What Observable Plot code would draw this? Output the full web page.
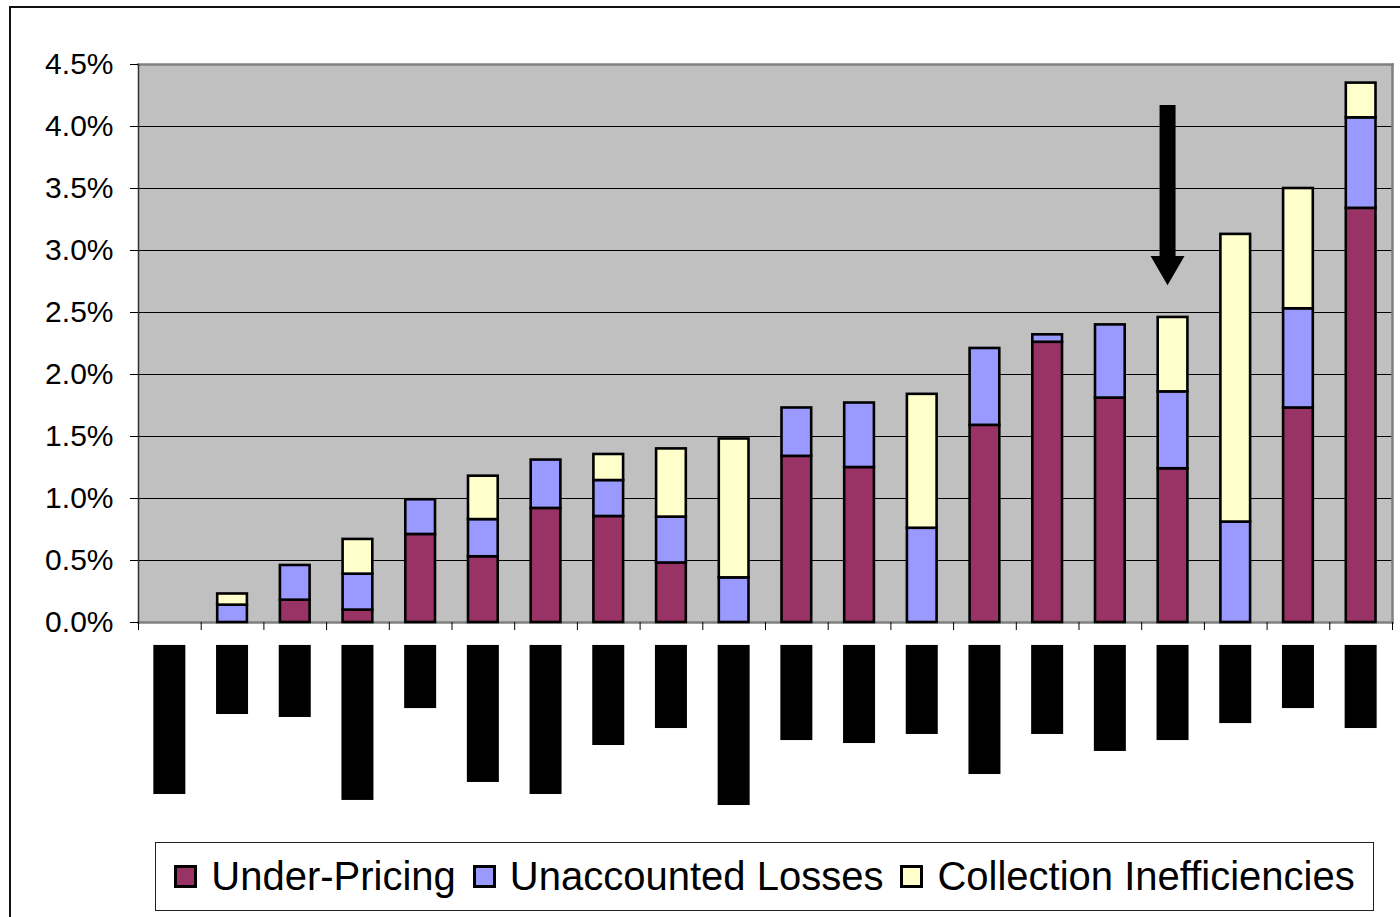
<!DOCTYPE html>
<html>
<head>
<meta charset="utf-8">
<script src="https://cdn.jsdelivr.net/npm/d3@7"></script>
<script src="https://cdn.jsdelivr.net/npm/@observablehq/plot@0.6"></script>
<style>
  body { margin: 0; background: #fff; font-family: "Liberation Sans", Arial, sans-serif; }
  #page { position: relative; width: 1400px; height: 917px; overflow: hidden; }
  #border { position: absolute; left: 9px; top: 6px; width: 1420px; height: 940px; border: 2px solid #111; box-sizing: border-box; }
  #chart { position: absolute; left: 0; top: 0; }
  #legend { position: absolute; left: 155px; top: 842px; width: 1219px; height: 69px; border: 1.5px solid #222;
            box-sizing: border-box; display: flex; align-items: center; justify-content: center; background: #fff;
            font-size: 40px; color: #000; white-space: nowrap; }
  .sw { width: 23px; height: 23px; border: 3px solid #000; box-sizing: border-box; margin-right: 14px; }
  .item { display: flex; align-items: center; margin-right: 17px; }
  .item:last-child { margin-right: 0; }
</style>
</head>
<body>
<div id="page">
  <div id="border"></div>
  <div id="chart"></div>
  <div id="legend"></div>
</div>
<script>
// ---- data (percent) ----
const categories = d3.range(1, 21);
const seriesNames = ["Under-Pricing", "Unaccounted Losses", "Collection Inefficiencies"];
const seriesColors = ["#993366", "#9999FF", "#FFFFCC"];
const underPricing =             [0, 0,    0.18, 0.10, 0.71, 0.53, 0.92, 0.855, 0.48, 0,    1.34, 1.25, 0,    1.59, 2.26, 1.81, 1.24, 0,    1.73, 3.34];
const unaccountedLosses =        [0, 0.14, 0.28, 0.29, 0.28, 0.30, 0.39, 0.29,  0.37, 0.36, 0.39, 0.52, 0.76, 0.62, 0.06, 0.59, 0.62, 0.81, 0.80, 0.73];
const collectionInefficiencies = [0, 0.09, 0,    0.28, 0,    0.35, 0,    0.21,  0.55, 1.12, 0,    0,    1.08, 0,    0,    0,    0.60, 2.32, 0.97, 0.28];
const yTicks = [0, 0.5, 1.0, 1.5, 2.0, 2.5, 3.0, 3.5, 4.0, 4.5];
// redacted (blacked-out) category labels: depth below the axis, in the same units
const redactedLabelTop = 0.185;
const redactedLabelDepth = [1.387, 0.742, 0.766, 1.435, 0.694, 1.290, 1.387, 0.992, 0.855, 1.476,
                            0.952, 0.976, 0.903, 1.226, 0.903, 1.040, 0.952, 0.815, 0.694, 0.855];
// annotation arrow
const arrowCategory = 17;
const arrowFrom = 4.17;
const arrowTo = 2.72;

// ---- build stacked rows ----
const seriesValues = [underPricing, unaccountedLosses, collectionInefficiencies];
const rows = [];
categories.forEach((c, i) => {
  let base = 0;
  seriesValues.forEach((vals, s) => {
    const v = vals[i];
    if (v > 0) rows.push({cat: c, series: seriesNames[s], color: seriesColors[s], y1: base, y2: base + v});
    base += v;
  });
});

const plot = Plot.plot({
  width: 1400,
  height: 830,
  marginLeft: 138,
  marginRight: 8,
  marginTop: 64,
  marginBottom: 208,
  x: {domain: [0.5, 20.5]},
  y: {domain: [0, 4.5]},
  style: {fontFamily: "Liberation Sans, Arial, sans-serif", background: "transparent", color: "#000", overflow: "visible"},
  marks: [
    Plot.frame({fill: "#c0c0c0", stroke: null}),
    Plot.ruleY(yTicks.filter(t => t > 0 && t < 4.5), {stroke: "#000", strokeWidth: 1.2}),
    Plot.frame({anchor: "top", stroke: "#808080", strokeWidth: 2.5}),
    Plot.frame({anchor: "right", stroke: "#808080", strokeWidth: 2.5}),
    Plot.frame({anchor: "bottom", stroke: "#808080", strokeWidth: 2.5}),
    Plot.frame({anchor: "left", stroke: "#333", strokeWidth: 1.5}),
    Plot.axisY({ticks: yTicks, tickFormat: d => d.toFixed(1) + "%", tickSize: 8, tickPadding: 17, fontSize: 30, label: null, stroke: "#000"}),
    Plot.axisX({ticks: d3.range(0.5, 21, 1), tickFormat: () => "", tickSize: 8, label: null, stroke: "#000"}),
    Plot.rect(rows, {x1: d => d.cat - 0.5, x2: d => d.cat + 0.5, y1: "y1", y2: "y2", fill: "color",
      stroke: "#000", strokeWidth: 2.6, insetLeft: 16.5, insetRight: 16.5}),
    Plot.rect(categories, {x1: c => c - 0.5, x2: c => c + 0.5, y1: -redactedLabelTop, y2: (c, i) => -redactedLabelDepth[i],
      fill: "#000", insetLeft: 15.35, insetRight: 15.35}),
    Plot.ruleX([arrowCategory], {y1: arrowFrom, y2: arrowTo + 0.2, stroke: "#000", strokeWidth: 16, dx: -5.5}),
    Plot.dot([arrowCategory], {x: d => d, y: arrowTo, symbol: "triangle", rotate: 180, r: 12.6, fill: "#000", stroke: null, dx: -5.5, dy: -19.5})
  ]
});
document.getElementById("chart").appendChild(plot);

// legend
const legend = document.getElementById("legend");
seriesNames.forEach((name, i) => {
  const item = document.createElement("div");
  item.className = "item";
  const sw = document.createElement("div");
  sw.className = "sw";
  sw.style.background = seriesColors[i];
  const t = document.createElement("span");
  t.textContent = name;
  item.appendChild(sw);
  item.appendChild(t);
  legend.appendChild(item);
});
</script>
</body>
</html>
